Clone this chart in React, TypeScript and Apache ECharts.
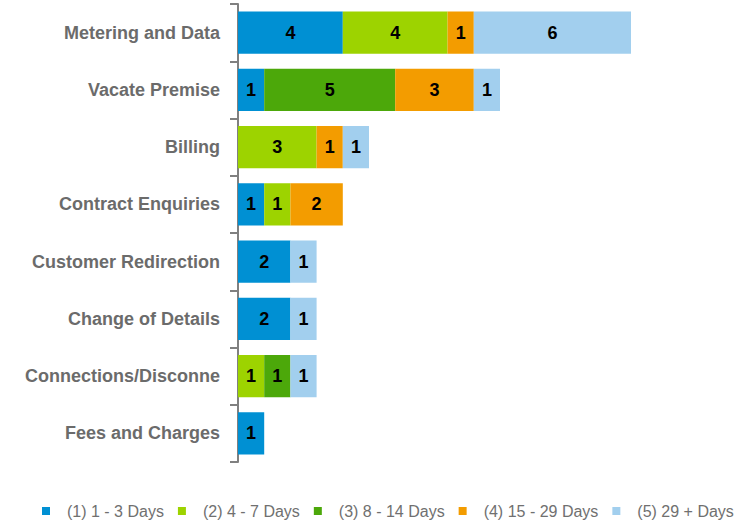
import React, { useEffect, useRef } from "react";
import * as echarts from "echarts";

const categories = [
  "Metering and Data",
  "Vacate Premise",
  "Billing",
  "Contract Enquiries",
  "Customer Redirection",
  "Change of Details",
  "Connections/Disconne",
  "Fees and Charges",
];
const seriesNames = [
  "(1) 1 - 3 Days",
  "(2) 4 - 7 Days",
  "(3) 8 - 14 Days",
  "(4) 15 - 29 Days",
  "(5) 29 + Days",
];
const days1to3 = [4, 1, 0, 1, 2, 2, 0, 1];
const days4to7 = [4, 0, 3, 1, 0, 0, 1, 0];
const days8to14 = [0, 5, 0, 0, 0, 0, 1, 0];
const days15to29 = [1, 3, 1, 2, 0, 0, 0, 0];
const days29plus = [6, 1, 1, 0, 1, 1, 1, 0];
const colors = ["#0090d3", "#9dd300", "#4ca80a", "#f39c00", "#a2cfee"];

const FONT = "'Liberation Sans', Arial, sans-serif";

export default function App() {
  const ref = useRef<HTMLDivElement>(null);
  useEffect(() => {
    document.body.style.margin = "0";
    if (!ref.current) return;
    const chart = echarts.init(ref.current, undefined, { renderer: "svg" });
    const values = [days1to3, days4to7, days8to14, days15to29, days29plus];
    chart.setOption({
      animation: false,
      grid: { left: 238, top: 4, width: 393, bottom: 61 },
      legend: {
        top: 503,
        left: 42,
        itemWidth: 8,
        itemHeight: 8,
        itemGap: 14,
        icon: "rect",
        padding: 0,
        textStyle: {
          fontFamily: FONT,
          fontSize: 16,
          color: "#707070",
          padding: [0, 0, 0, 12],
        },
        data: seriesNames,
      },
      xAxis: {
        type: "value",
        min: 0,
        max: 15,
        show: false,
        splitLine: { show: false },
      },
      yAxis: {
        type: "category",
        inverse: true,
        data: categories,
        axisLine: { show: true, lineStyle: { color: "#808080", width: 2 } },
        axisTick: { show: true, length: 8, lineStyle: { color: "#808080", width: 2 } },
        axisLabel: {
          margin: 18,
          fontFamily: FONT,
          fontSize: 18,
          fontWeight: "bold",
          color: "#6b6b6b",
        },
      },
      series: seriesNames.map((name, i) => ({
        name,
        type: "bar",
        stack: "total",
        barCategoryGap: "26%",
        itemStyle: { color: colors[i] },
        label: {
          show: true,
          position: "inside",
          fontFamily: FONT,
          fontSize: 18,
          fontWeight: "bold",
          color: "#000",
          formatter: (p: any) => (p.value ? String(p.value) : ""),
        },
        data: values[i],
      })),
    });
    return () => chart.dispose();
  }, []);
  return <div ref={ref} style={{ width: 755, height: 523 }} />;
}
